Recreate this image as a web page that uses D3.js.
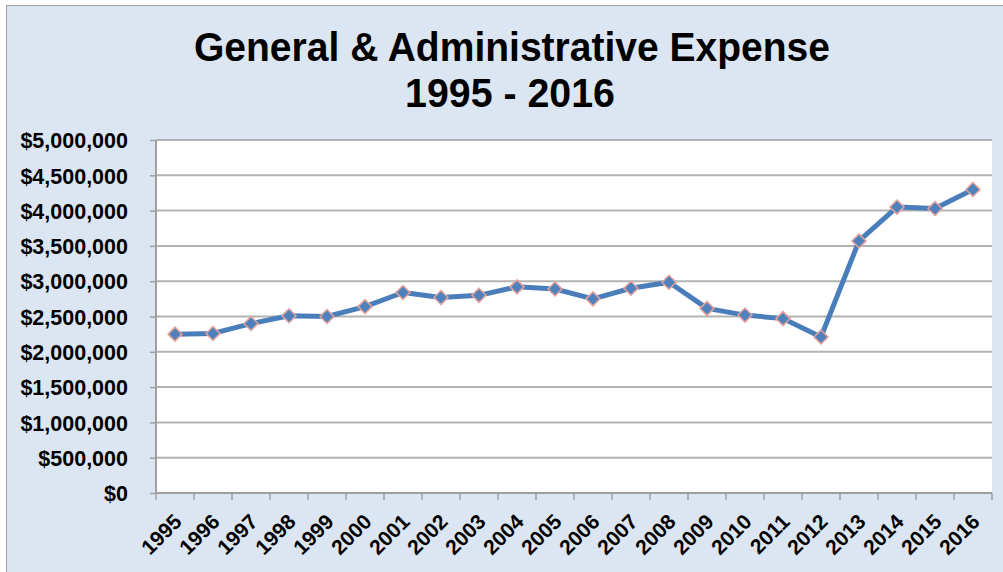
<!DOCTYPE html>
<html>
<head>
<meta charset="utf-8">
<script src="https://cdn.jsdelivr.net/npm/d3@7"></script>
<style>
  body { margin: 0; background: #fff; }
  text { font-family: "Liberation Sans", Arial, sans-serif; font-weight: bold; fill: #000; }
</style>
</head>
<body>
<div id="chart"></div>
<script>
// Data
const years = ["1995","1996","1997","1998","1999","2000","2001","2002","2003","2004","2005",
               "2006","2007","2008","2009","2010","2011","2012","2013","2014","2015","2016"]
const expense = [2250000, 2260000, 2400000, 2510000, 2500000, 2640000, 2840000, 2770000, 2800000,
                 2920000, 2890000, 2750000, 2900000, 2985000, 2615000, 2520000, 2470000, 2210000,
                 3570000, 4050000, 4030000, 4300000]
const yTicks = [0, 500000, 1000000, 1500000, 2000000, 2500000, 3000000, 3500000, 4000000, 4500000, 5000000]
const titleLines = ["General & Administrative Expense", "1995 - 2016"]

const W = 1003, H = 572
const margin = { top: 140, right: 11, bottom: 79, left: 156 }
const width = W - margin.left - margin.right
const height = H - margin.top - margin.bottom

const data = years.map((y, i) => ({ year: y, value: expense[i] }))

const root = d3.select("#chart").append("svg")
    .attr("width", W)
    .attr("height", H)

// outer chart area
root.append("rect")
    .attr("x", 6.5).attr("y", 5.5)
    .attr("width", W).attr("height", H)
    .attr("fill", "#dce6f2")
    .attr("stroke", "#a0a0a0")
    .attr("stroke-width", 1)

// title
root.append("text")
    .attr("x", 512).attr("y", 61)
    .attr("text-anchor", "middle")
    .attr("font-size", 40)
    .attr("textLength", 636)
    .attr("lengthAdjust", "spacingAndGlyphs")
    .text(titleLines[0])
root.append("text")
    .attr("x", 510).attr("y", 107)
    .attr("text-anchor", "middle")
    .attr("font-size", 40)
    .attr("textLength", 210)
    .attr("lengthAdjust", "spacingAndGlyphs")
    .text(titleLines[1])

const svg = root.append("g")
    .attr("transform", "translate(" + margin.left + "," + margin.top + ")")

const x = d3.scaleBand()
    .domain(years)
    .range([0, width])
    .padding(0)

const y = d3.scaleLinear()
    .domain([0, 5000000])
    .range([height, 0])

// plot area
svg.append("rect")
    .attr("width", width)
    .attr("height", height)
    .attr("fill", "#fff")

// gridlines
svg.append("g")
    .selectAll("line")
    .data(yTicks.filter(d => d > 0))
    .join("line")
    .attr("x1", 0).attr("x2", width)
    .attr("y1", d => y(d)).attr("y2", d => y(d))
    .attr("stroke", "#b3b3b3")
    .attr("stroke-width", 2)

// y axis
const yAxis = svg.append("g")
    .call(d3.axisLeft(y).tickValues(yTicks).tickSize(6).tickPadding(22).tickFormat(d3.format("$,")))
yAxis.select(".domain").attr("stroke", "#a0a0a0").attr("stroke-width", 2).attr("d", "M0,0V" + height)
yAxis.selectAll(".tick line").attr("stroke", "#a0a0a0").attr("stroke-width", 1.5)
yAxis.selectAll("text")
    .attr("font-size", 21.5)
    .attr("font-family", "Liberation Sans, Arial, sans-serif")
    .attr("font-weight", "bold")
    .attr("fill", "#000")
    .attr("dy", "0.36em")

// x axis
const xAxis = svg.append("g")
    .attr("transform", "translate(0," + height + ")")
xAxis.append("line")
    .attr("x1", 0).attr("x2", width)
    .attr("stroke", "#a0a0a0").attr("stroke-width", 2)
xAxis.selectAll(".xtick")
    .data(years.map(d => x(d)).concat([width]))
    .join("line")
    .attr("class", "xtick")
    .attr("x1", d => d).attr("x2", d => d)
    .attr("y1", 0).attr("y2", 7)
    .attr("stroke", "#a0a0a0").attr("stroke-width", 1.5)
xAxis.selectAll(".xlabel")
    .data(years)
    .join("text")
    .attr("class", "xlabel")
    .attr("text-anchor", "end")
    .attr("font-size", 21)
    .attr("transform", d => "translate(" + (x(d) + x.bandwidth() / 2 + 8) + ",30) rotate(-45)")
    .text(d => d)

// line
const line = d3.line()
    .x(d => x(d.year) + x.bandwidth() / 2)
    .y(d => y(d.value))

svg.append("path")
    .datum(data)
    .attr("d", line)
    .attr("fill", "none")
    .attr("stroke", "#4a7ebb")
    .attr("stroke-width", 5)
    .attr("stroke-linejoin", "round")

// diamond markers
svg.selectAll(".marker")
    .data(data)
    .join("path")
    .attr("class", "marker")
    .attr("d", d3.symbol().type(d3.symbolDiamond2).size(125))
    .attr("transform", d => "translate(" + (x(d.year) + x.bandwidth() / 2) + "," + y(d.value) + ")")
    .attr("fill", "#4f81bd")
    .attr("stroke", "#e6a19b")
    .attr("stroke-width", 1.5)
</script>
</body>
</html>
